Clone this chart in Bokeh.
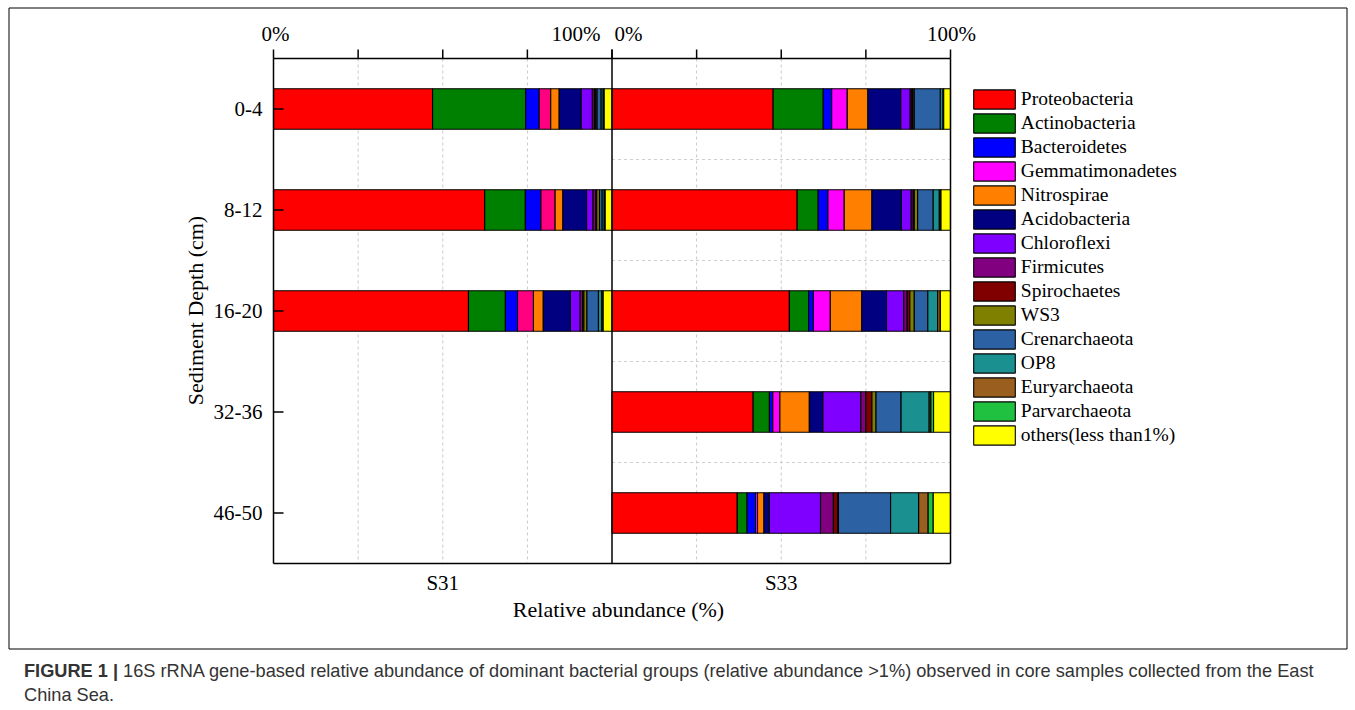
from bokeh.plotting import figure
from bokeh.models import Range1d, Legend, LegendItem, Div, ColumnDataSource
from bokeh.core.properties import value
from bokeh.layouts import column
from bokeh.embed import file_html
from bokeh.resources import INLINE
import numpy as np

species = ["Proteobacteria", "Actinobacteria", "Bacteroidetes", "Gemmatimonadetes",
           "Nitrospirae", "Acidobacteria", "Chloroflexi", "Firmicutes", "Spirochaetes",
           "WS3", "Crenarchaeota", "OP8", "Euryarchaeota", "Parvarchaeota",
           "others(less than1%)"]
colors = ["#FF0000", "#008000", "#0000FF", "#FF00FF", "#FF8000", "#000080", "#8000FF",
          "#800080", "#800000", "#808000", "#2C62A3", "#1A9090", "#9A5E1E", "#20C040",
          "#FFFF00"]
s31_gemma_color = "#FF0080"
depths = ["0-4", "8-12", "16-20", "32-36", "46-50"]
sites = ["S31", "S33"]
top_tick_values = [0, 25, 50, 75, 100]

# relative abundance (%) per bar, in the species order above
s31_0_4 = [47.0, 27.5, 4.0, 3.4, 2.5, 6.5, 3.3, 0.6, 0.4, 0.4, 1.2, 0.6, 0.3, 0.0, 2.3]
s31_8_12 = [62.4, 12.0, 4.6, 4.2, 2.3, 7.0, 1.9, 0.8, 0.3, 0.8, 0.8, 0.6, 0.3, 0.0, 2.0]
s31_16_20 = [57.6, 10.9, 3.6, 4.7, 2.9, 8.0, 2.9, 0.7, 0.4, 0.9, 3.4, 1.0, 0.4, 0.0, 2.6]
s33_0_4 = [47.6, 14.8, 2.5, 4.6, 6.1, 9.7, 2.8, 0.5, 0.3, 0.4, 7.7, 0.8, 0.2, 0.0, 2.0]
s33_8_12 = [54.7, 6.2, 2.9, 4.8, 8.2, 8.7, 2.9, 0.6, 0.3, 1.0, 4.6, 1.8, 0.5, 0.0, 2.8]
s33_16_20 = [52.4, 5.7, 1.4, 5.0, 9.3, 7.3, 5.1, 1.0, 0.8, 1.3, 4.0, 2.9, 0.8, 0.0, 3.0]
s33_32_36 = [41.7, 4.8, 1.0, 2.1, 8.7, 4.0, 11.2, 1.5, 1.8, 1.2, 7.4, 8.3, 0.5, 0.8, 5.0]
s33_46_50 = [37.0, 2.9, 2.5, 0.6, 1.9, 1.6, 15.1, 3.8, 1.3, 0.2, 15.4, 8.3, 2.8, 1.5, 5.1]

bars = [(0, 0, s31_0_4), (0, 1, s31_8_12), (0, 2, s31_16_20),
        (1, 0, s33_0_4), (1, 1, s33_8_12), (1, 2, s33_16_20),
        (1, 3, s33_32_36), (1, 4, s33_46_50)]

SERIF = "Liberation Serif"
W, H = 1350, 650          # canvas starts at the page's top-left corner

# layout: plot box spans page x 273..950 (0..200) and page y 58..563 (-0.5..4.5)
PX_X0, PX_X1 = 273.0, 950.0
PX_Y0, PX_Y1 = 58.0, 563.0
SX = (PX_X1 - PX_X0) / 200.0
SY = (PX_Y1 - PX_Y0) / 5.0


def px2x(px):
    return (px - PX_X0) / SX


def px2y(py):
    return -0.5 + (py - PX_Y0) / SY


p = figure(width=W, height=H, title=None,
           x_range=Range1d(px2x(0), px2x(W)),
           y_range=Range1d(px2y(H), px2y(0)),
           output_backend="svg", toolbar_location=None,
           x_axis_location=None, y_axis_location=None, min_border=0)
p.outline_line_color = None
p.grid.visible = False
p.background_fill_color = "white"
p.border_fill_color = "white"

# outer figure box
bx0, bx1, by0, by1 = 8.5, 1346.5, 7.5, 648.5
p.segment(x0=[px2x(bx0), px2x(bx1), px2x(bx0), px2x(bx0)],
          x1=[px2x(bx0), px2x(bx1), px2x(bx1), px2x(bx1)],
          y0=[px2y(by0), px2y(by0), px2y(by0), px2y(by1)],
          y1=[px2y(by1), px2y(by1), px2y(by0), px2y(by1)],
          line_color="black", line_width=1)

# dashed guide lines
grid_x = [25, 50, 75, 125, 150, 175]
p.segment(x0=grid_x, x1=grid_x, y0=[-0.5] * len(grid_x), y1=[4.5] * len(grid_x),
          line_color="#C8C8C8", line_dash="3 3", line_width=1)
mids = list(np.arange(len(depths) - 1) + 0.5)
p.segment(x0=[100] * len(mids), x1=[200] * len(mids), y0=mids, y1=mids,
          line_color="#D0D0D0", line_dash="3 3", line_width=1)

# stacked bars
renderers = []
for k, name in enumerate(species):
    ys, lefts, rights, fills = [], [], [], []
    for site_i, depth_i, vals in bars:
        cum = np.cumsum([0.0] + list(vals))
        ys.append(depth_i)
        lefts.append(site_i * 100 + cum[k])
        rights.append(site_i * 100 + cum[k + 1])
        fills.append(s31_gemma_color if (k == 3 and site_i == 0) else colors[k])
    src = ColumnDataSource(dict(y=ys, left=lefts, right=rights, fill=fills))
    r = p.hbar(y="y", left="left", right="right", height=0.4, source=src,
               fill_color="fill", line_color="black", line_width=1.1)
    renderers.append(r)

# plot box, divider and ticks
p.segment(x0=[0, 200, 0, 0, 100], x1=[0, 200, 200, 200, 100],
          y0=[-0.5, -0.5, -0.5, 4.5, px2y(PX_Y0 - 9)], y1=[4.5, 4.5, -0.5, 4.5, 4.5],
          line_color="black", line_width=1.5)
top_ticks = top_tick_values + [100 + v for v in top_tick_values[1:]]
p.segment(x0=top_ticks, x1=top_ticks, y0=[-0.5] * len(top_ticks),
          y1=[px2y(PX_Y0 - 9)] * len(top_ticks), line_color="black", line_width=1.5)
dy = list(range(len(depths)))
p.segment(x0=[0] * len(dy), x1=[10 / SX] * len(dy), y0=dy, y1=dy,
          line_color="black", line_width=1.5)

# texts
font = value(SERIF)
p.text(x=[px2x(275), px2x(600), px2x(614), px2x(951)], y=[px2y(33)] * 4,
       text=["0%", "100%", "0%", "100%"], text_align=["center", "right", "left", "center"],
       text_baseline="middle", text_font=font, text_font_size=value("21px"),
       text_color="black")
p.text(x=[px2x(262)] * len(depths), y=dy, text=depths, text_align="right",
       text_baseline="middle", text_font=font, text_font_size=value("21px"),
       text_color="black")
p.text(x=[50, 150], y=[px2y(582)] * 2, text=sites, text_align="center",
       text_baseline="middle", text_font=font, text_font_size=value("21px"),
       text_color="black")
p.text(x=[px2x(618)], y=[px2y(609)], text=["Relative abundance (%)"],
       text_align="center", text_baseline="middle", text_font=font,
       text_font_size=value("22px"), text_color="black")
p.text(x=[px2x(195)], y=[px2y(310)], text=["Sediment Depth (cm)"], angle=np.pi / 2,
       text_align="center", text_baseline="middle", text_font=font,
       text_font_size=value("22px"), text_color="black")

# legend
items = []
for k, name in enumerate(species):
    idx = 3 if k == 3 else 0
    items.append(LegendItem(label=name, renderers=[renderers[k]], index=idx))
leg_left = 967.8
leg_top = 86.6
leg_h = 24 * len(species)
legend = Legend(items=items, location=(leg_left, H - leg_top - leg_h),
                orientation="vertical", glyph_width=52, glyph_height=24,
                label_height=24, spacing=0, padding=0, margin=0, label_standoff=1,
                label_text_font=SERIF, label_text_font_size="19.5px",
                label_text_color="black",
                border_line_alpha=0, background_fill_alpha=0)
p.add_layout(legend)

caption = Div(
    text=("<b>FIGURE 1 |</b> 16S rRNA gene-based relative abundance of dominant bacterial "
          "groups (relative abundance &gt;1%) observed in core samples collected from the East"
          "<br>China Sea."),
    width=1320, height=48,
    styles={"font-family": "'Liberation Sans', Arial, sans-serif", "font-size": "18.2px",
            "color": "#333333", "line-height": "24px", "padding-top": "4px",
            "padding-left": "19px", "box-sizing": "border-box", "white-space": "nowrap"})

layout = column(p, caption, spacing=0)
open("out.html", "w").write(file_html(layout, INLINE))
